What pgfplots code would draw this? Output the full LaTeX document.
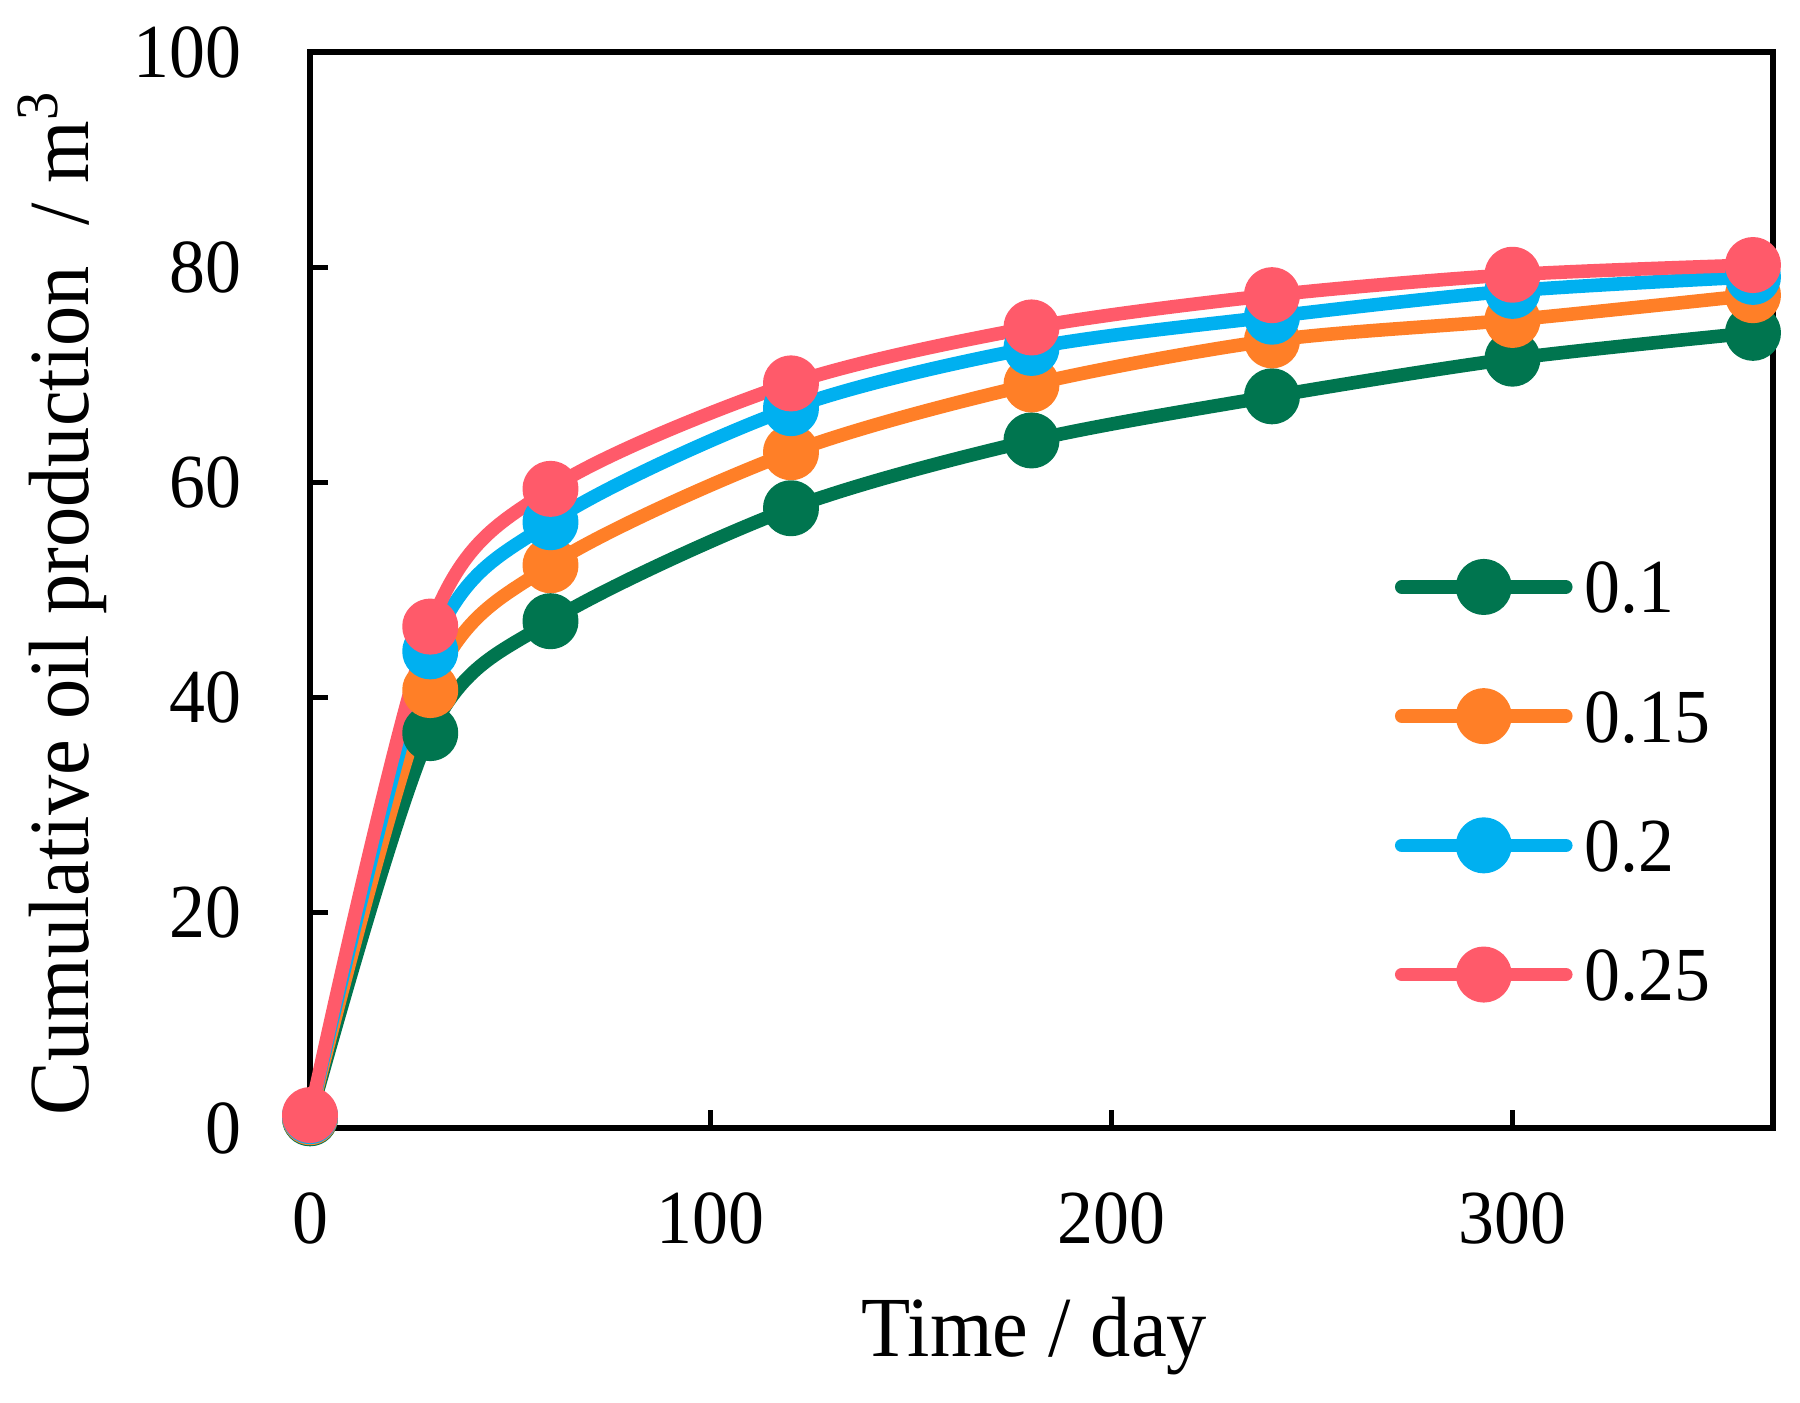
\documentclass[border=0pt]{standalone}
\usepackage{fontspec}
\setmainfont{Liberation Serif}[FakeStretch=0.94]
\usepackage{pgfplots}
\pgfplotsset{compat=1.18}
\definecolor{cgreen}{RGB}{0,117,79}
\definecolor{corange}{RGB}{255,127,39}
\definecolor{cblue}{RGB}{0,176,240}
\definecolor{cred}{RGB}{255,90,106}
\pgfplotsset{
  myline/.style={smooth, tension=0.5, /tikz/line width=3.4pt, line cap=round, line join=round,
    mark=*, mark size=5.3pt, color=#1, mark options={fill=#1, draw=none}},
}
\begin{document}
\begin{tikzpicture}
\begin{axis}[
  at={(0pt,0pt)}, anchor=south west,
  scale only axis, width=365.75pt, height=269pt,
  xmin=0, xmax=365, ymin=0, ymax=100,
  xtick={0,100,200,300}, ytick={0,20,40,60,80,100},
  tick align=inside, tick pos=left,
  major tick length=4.5pt,
  every tick/.style={black, line width=1.2pt},
  axis line style={line width=1.3pt, line join=miter},
  /pgf/number format/assume math mode=true,
  tick label style={font=\fontsize{19.1}{22}\selectfont},
  xticklabel style={anchor=north, inner sep=0pt, yshift=-16pt},
  yticklabel style={anchor=east, inner sep=0pt, xshift=-17pt},
  xlabel={Time / day},
  ylabel={Cumulative oil production\ \ / m\textsuperscript{3}},
  every axis x label/.style={at={(axis description cs:0.495,-0.2128)}, anchor=base, font=\fontsize{21.4}{25}\selectfont},
  every axis y label/.style={at={(axis description cs:-0.1517,0.488)}, anchor=base, rotate=90, font=\fontsize{21.4}{25}\selectfont},
  clip=false,
  legend style={at={(axis description cs:0.7416,0.527)}, anchor=north west,
    draw=none, fill=none, inner sep=0pt, outer sep=0pt,
    row sep=19.3pt, column sep=3pt,
    nodes={inner sep=0pt, text height=13pt, text depth=0pt, anchor=west},
    font=\fontsize{19.1}{22}\selectfont},
  legend image code/.code={\draw[#1, mark=none] (0pt,0pt) -- (41pt,0pt);
    \path[#1] plot coordinates {(20.5pt,0pt)};},
]
\addplot[myline=cgreen] coordinates {
(0,0.9) (30,36.7) (60,47.1) (120,57.6) (180,63.9) (240,68.0) (300,71.5) (360,73.9)};
\addlegendentry{0.1}
\addplot[myline=corange] coordinates {
(0,1.0) (30,40.7) (60,52.3) (120,62.8) (180,69.1) (240,73.2) (300,75.1) (360,77.4)};
\addlegendentry{0.15}
\addplot[myline=cblue] coordinates {
(0,1.1) (30,44.3) (60,56.3) (120,66.9) (180,72.5) (240,75.4) (300,77.8) (360,79.1)};
\addlegendentry{0.2}
\addplot[myline=cred] coordinates {
(0,1.2) (30,46.6) (60,59.4) (120,69.2) (180,74.4) (240,77.4) (300,79.3) (360,80.2)};
\addlegendentry{0.25}
\end{axis}
\pgfresetboundingbox
\path[use as bounding box] (-77.5pt,-68.75pt) rectangle (372.5pt,282pt);
\end{tikzpicture}
\end{document}
